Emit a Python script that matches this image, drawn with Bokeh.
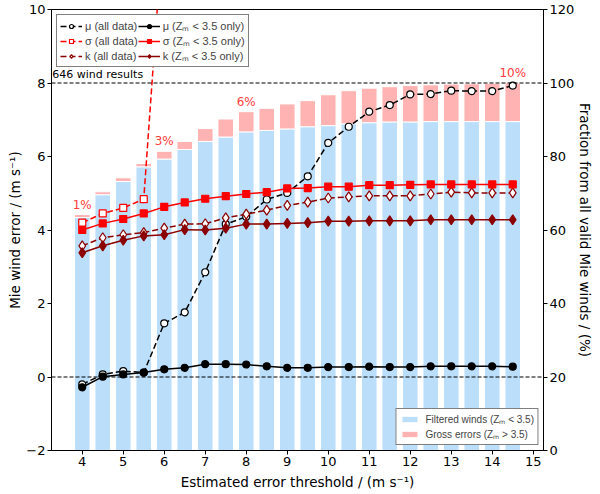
from bokeh.core.properties import value
from bokeh.embed import file_html
from bokeh.models import Legend, LegendItem, LinearAxis, Range1d, Span
from bokeh.plotting import figure
from bokeh.resources import INLINE

# Data
thresholds = [4.0, 4.5, 5.0, 5.5, 6.0, 6.5, 7.0, 7.5, 8.0, 8.5, 9.0,
              9.5, 10.0, 10.5, 11.0, 11.5, 12.0, 12.5, 13.0, 13.5, 14.0, 14.5]

# fraction of valid Mie winds (%), right axis
filtered_pct = [63.4, 69.6, 73.2, 77.2, 79.3, 81.9, 84.1, 85.3, 86.7, 87.1, 87.5,
                88.1, 88.4, 88.9, 89.2, 89.4, 89.4, 89.5, 89.5, 89.5, 89.5, 89.5]
total_pct = [64.2, 70.4, 74.2, 78.1, 81.4, 84.1, 87.6, 90.2, 92.2, 93.1, 94.3,
             95.2, 96.8, 97.9, 98.6, 99.0, 99.3, 99.5, 99.7, 99.8, 99.9, 100.0]

# statistics (m/s), left axis
mu_all = [-0.20, 0.07, 0.16, 0.12, 1.46, 1.76, 2.85, 4.16, 4.36, 4.83, 5.01,
          5.46, 6.37, 6.81, 7.22, 7.40, 7.69, 7.70, 7.79, 7.78, 7.78, 7.93]
mu_zm = [-0.28, 0.01, 0.07, 0.12, 0.21, 0.25, 0.35, 0.35, 0.34, 0.29, 0.25,
         0.25, 0.27, 0.27, 0.28, 0.27, 0.27, 0.29, 0.29, 0.29, 0.29, 0.28]
sigma_all_x = [4.0, 4.5, 5.0, 5.5, 6.0]
sigma_all = [4.20, 4.45, 4.60, 4.84, 12.7]
sigma_zm = [4.00, 4.18, 4.30, 4.45, 4.63, 4.75, 4.85, 4.92, 4.98, 5.03, 5.13,
            5.14, 5.18, 5.18, 5.22, 5.22, 5.23, 5.24, 5.24, 5.24, 5.24, 5.24]
k_all = [3.57, 3.79, 3.87, 3.93, 4.05, 4.16, 4.17, 4.33, 4.43, 4.54, 4.67,
         4.76, 4.87, 4.90, 4.93, 4.93, 4.93, 4.98, 5.03, 5.01, 5.01, 5.01]
k_zm = [3.38, 3.57, 3.72, 3.84, 3.87, 4.01, 4.00, 4.05, 4.16, 4.16, 4.18,
        4.20, 4.24, 4.24, 4.25, 4.25, 4.25, 4.28, 4.28, 4.28, 4.28, 4.28]

pct_x = [4.0, 6.0, 8.0, 14.5]
pct_labels = ["1%", "3%", "6%", "10%"]
n_winds = 646

FONT = "DejaVu Sans"

p = figure(frame_width=492, frame_height=441,
           x_range=Range1d(3.25, 15.25), y_range=Range1d(-2, 10),
           output_backend="svg", toolbar_location=None,
           min_border_left=51, min_border_right=40,
           min_border_top=9, min_border_bottom=30)
p.extra_y_ranges = {"frac": Range1d(0, 120)}
p.grid.visible = False
p.outline_line_color = "black"
p.background_fill_color = "white"

# stacked bars on the right axis
p.vbar(x=thresholds, width=0.38, bottom=0, top=filtered_pct, y_range_name="frac",
       fill_color="#bbdefb", line_color="white", line_width=1)
bars_blue = p.renderers[-1]
p.vbar(x=thresholds, width=0.38, bottom=filtered_pct, top=total_pct, y_range_name="frac",
       fill_color="#ffb3b3", line_color="white", line_width=1)
bars_pink = p.renderers[-1]

# reference lines
p.add_layout(Span(location=8, dimension="width", line_color="black",
                  line_dash="4 2", line_width=1.2))
p.add_layout(Span(location=0, dimension="width", line_color="black",
                  line_dash="4 2", line_width=1.2))

p.text(x=[3.27], y=[8.06], text=[f"{n_winds} wind results"],
       text_font=value(FONT), text_font_size="11px",
       text_align="left", text_baseline="bottom", text_color="black")

pct_y = [total_pct[thresholds.index(x)] + 0.8 for x in pct_x]
p.text(x=pct_x, y=pct_y, text=pct_labels, y_range_name="frac",
       text_font=value(FONT), text_font_size="12px",
       text_align="center", text_baseline="bottom", text_color="#ff3b3b")


def series(x, y, color, dash, marker, filled, size):
    ln = p.line(x, y, line_color=color, line_dash=dash, line_width=1.5)
    sc = p.scatter(x, y, marker=marker, size=size, line_color=color,
                   line_width=1.2, fill_color=color if filled else "white")
    return [ln, sc]


r_mu_all = series(thresholds, mu_all, "black", "6 3", "circle", False, 7)
r_sig_all = series(sigma_all_x, sigma_all, "red", "6 3", "square", False, 7)
r_k_all = series(thresholds, k_all, "#8b0000", "6 3", "diamond", False, 10)
r_mu_zm = series(thresholds, mu_zm, "black", "solid", "circle", True, 7)
r_sig_zm = series(thresholds, sigma_zm, "red", "solid", "square", True, 7)
r_k_zm = series(thresholds, k_zm, "#8b0000", "solid", "diamond", True, 10)

# axes
p.xaxis.ticker = list(range(4, 16))
p.xaxis.axis_label = "Estimated error threshold / (m s\u207b\u00b9)"
p.yaxis.ticker = [-2, 0, 2, 4, 6, 8, 10]
p.yaxis.major_label_overrides = {-2: "\u22122"}
p.yaxis.axis_label = "Mie wind error / (m s\u207b\u00b9)"

right = LinearAxis(y_range_name="frac", ticker=[0, 20, 40, 60, 80, 100, 120],
                   axis_label="Fraction from all valid Mie winds / (%)")
p.add_layout(right, "right")

for ax in p.xaxis + p.yaxis + [right]:
    ax.major_label_text_font = FONT
    ax.major_label_text_font_size = "13px"
    ax.major_label_text_color = "black"
    ax.axis_label_text_font = FONT
    ax.axis_label_text_font_size = "13.5px"
    ax.axis_label_text_font_style = "normal"
    ax.axis_label_text_color = "black"
    ax.axis_line_color = "black"
    ax.major_tick_line_color = "black"
    ax.major_tick_out = 4
    ax.major_tick_in = 0
    ax.minor_tick_line_color = None
    ax.major_label_standoff = 2
    ax.axis_label_standoff = 0
p.xaxis.axis_label_standoff = 5

legend_top = Legend(
    items=[
        LegendItem(label="\u03bc (all data)", renderers=r_mu_all),
        LegendItem(label="\u03c3 (all data)", renderers=r_sig_all),
        LegendItem(label="k (all data)", renderers=r_k_all),
        LegendItem(label="\u03bc (Z\u2098 < 3.5 only)", renderers=r_mu_zm),
        LegendItem(label="\u03c3 (Z\u2098 < 3.5 only)", renderers=r_sig_zm),
        LegendItem(label="k (Z\u2098 < 3.5 only)", renderers=r_k_zm),
    ],
    location="top_left", ncols=2, orientation="vertical",
    label_text_font="Liberation Sans", label_text_font_size="11px",
    label_text_line_height=1.0,
    glyph_width=22, glyph_height=10, label_height=10, label_standoff=3,
    spacing=0, padding=3, margin=5,
    border_line_color="black", border_line_width=1, background_fill_alpha=1,
)
p.add_layout(legend_top)

legend_bars = Legend(
    items=[
        LegendItem(label="Filtered winds (Z\u2098 < 3.5)", renderers=[bars_blue]),
        LegendItem(label="Gross errors (Z\u2098 > 3.5)", renderers=[bars_pink]),
    ],
    location="bottom_right",
    label_text_font="Liberation Sans", label_text_font_size="10px",
    label_text_line_height=1.0,
    glyph_width=20, glyph_height=8, label_height=10, label_standoff=6,
    spacing=1, padding=3, margin=5,
    border_line_color="black", border_line_width=1, background_fill_alpha=1,
)
p.add_layout(legend_bars)

open("out.html", "w").write(file_html(p, INLINE))
